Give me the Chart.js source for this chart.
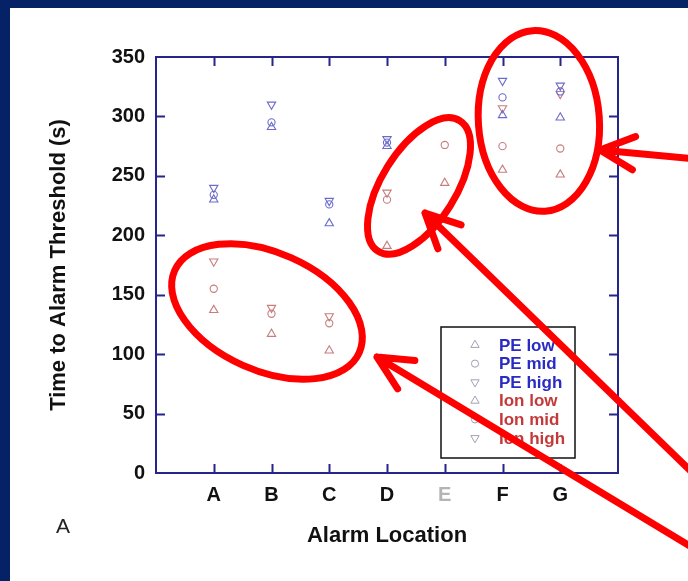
<!DOCTYPE html>
<html>
<head>
<meta charset="utf-8">
<script src="https://cdn.jsdelivr.net/npm/chart.js@4.4.1/dist/chart.umd.min.js"></script>
<style>
  html, body { margin: 0; padding: 0; }
  body { width: 688px; height: 581px; background: #062266; position: relative; overflow: hidden; }
  #panel { position: absolute; left: 10px; top: 8px; width: 678px; height: 573px; background: #fff; }
  #chart { position: absolute; left: 0; top: 0; }
  #panelTag { position: absolute; left: 46px; top: 508px; font: 21px/20px "Liberation Sans", Arial, sans-serif; color: #222; }
</style>
</head>
<body>
<div id="panel">
  <canvas id="chart" width="678" height="573"></canvas>
  <div id="panelTag">A</div>
</div>
<script>
/* Time to alarm threshold by location, PE vs ion detectors */

var categories = ['A', 'B', 'C', 'D', 'E', 'F', 'G'];
var yTicks = [0, 50, 100, 150, 200, 250, 300, 350];

var peLow   = [230, 291, 210, 275, null, 301, 299];
var peMid   = [234, 295, 226, 278, null, 316, 321];
var peHigh  = [240, 310, 229, 281, null, 330, 326];
var ionLow  = [137, 117, 103, 191, 244, 255, 251];
var ionMid  = [155, 134, 126, 230, 276, 275, 273];
var ionHigh = [178, 139, 132, 236, null, 307, 319];

var PE_MARK = '#6b6bcc';
var ION_MARK = '#c77d7d';
var PE_TEXT = '#2a2ac4';
var ION_TEXT = '#c43a3a';
var AXIS = '#25258c';
var FONT = '"Liberation Sans", Arial, sans-serif';

// red hand-drawn callouts, anchored in data units
var callouts = [
  { kind: 'ellipse', x: 6.63, y: 296.2, a: 60.5, b: 90.5, angle: -4 },
  { kind: 'ellipse', x: 4.554, y: 241.5, a: 77, b: 37, angle: -58 },
  { kind: 'ellipse', x: 1.922, y: 135.9, a: 101, b: 59, angle: 24 },
  { kind: 'arrow', x: 7.688, y: 271.8, x2: 9.33, y2: 264.2 },
  { kind: 'arrow', x: 4.658, y: 218.7, x2: 9.33, y2: -1.7 },
  { kind: 'arrow', x: 3.827, y: 97.6, x2: 9.33, y2: -63.9 }
];

function toPoints(values) {
  var pts = [];
  values.forEach(function (v, i) {
    if (v !== null) pts.push({ x: i + 1, y: v });
  });
  return pts;
}

function series(label, values, style, rotation, color, textColor) {
  return {
    label: label,
    data: toPoints(values),
    pointStyle: style,
    rotation: rotation,
    pointRadius: style === 'circle' ? 3.6 : 4.8,
    pointHoverRadius: style === 'circle' ? 3.6 : 4.8,
    borderColor: color,
    backgroundColor: 'rgba(0,0,0,0)',
    pointBorderWidth: 1.1,
    textColor: textColor
  };
}

var frameTicks = {
  id: 'frameTicks',
  afterDatasetsDraw: function (chart) {
    var ctx = chart.ctx, a = chart.chartArea;
    var xs = chart.scales.x, ys = chart.scales.y;
    ctx.save();
    ctx.strokeStyle = AXIS;
    ctx.lineWidth = 2;
    ctx.strokeRect(a.left, a.top, a.right - a.left, a.bottom - a.top);
    ctx.beginPath();
    categories.forEach(function (c, i) {
      var px = Math.round(xs.getPixelForValue(i + 1)) + 0.5;
      ctx.moveTo(px, a.bottom); ctx.lineTo(px, a.bottom - 9);
      ctx.moveTo(px, a.top); ctx.lineTo(px, a.top + 9);
    });
    yTicks.forEach(function (v) {
      if (v === yTicks[0] || v === yTicks[yTicks.length - 1]) return;
      var py = Math.round(ys.getPixelForValue(v)) + 0.5;
      ctx.moveTo(a.left, py); ctx.lineTo(a.left + 9, py);
      ctx.moveTo(a.right, py); ctx.lineTo(a.right - 9, py);
    });
    ctx.stroke();
    ctx.restore();
  }
};

var boxLegend = {
  id: 'boxLegend',
  afterDraw: function (chart) {
    var ctx = chart.ctx, a = chart.chartArea;
    var w = 134, h = 131;
    var left = a.right - 43 - w, top = a.bottom - 15 - h;
    ctx.save();
    ctx.fillStyle = '#fff';
    ctx.fillRect(left, top, w, h);
    ctx.strokeStyle = '#111';
    ctx.lineWidth = 1.5;
    ctx.strokeRect(left, top, w, h);
    ctx.font = 'bold 17px ' + FONT;
    ctx.textBaseline = 'middle';
    chart.data.datasets.forEach(function (ds, i) {
      var y = top + 18 + i * 18.6;
      ctx.strokeStyle = '#a2a2b4';
      ctx.fillStyle = 'rgba(0,0,0,0)';
      ctx.lineWidth = 1;
      Chart.helpers.drawPoint(ctx, {
        pointStyle: ds.pointStyle, rotation: ds.rotation,
        radius: ds.pointRadius, borderWidth: 1
      }, left + 34, y);
      ctx.fillStyle = ds.textColor;
      ctx.fillText(ds.label, left + 58, y + 1);
    });
    ctx.restore();
  }
};

var redMarks = {
  id: 'redMarks',
  afterDraw: function (chart) {
    var ctx = chart.ctx, xs = chart.scales.x, ys = chart.scales.y;
    ctx.save();
    ctx.strokeStyle = '#ff0000';
    ctx.lineWidth = 7;
    ctx.lineCap = 'round';
    ctx.lineJoin = 'round';
    callouts.forEach(function (m) {
      var px = xs.getPixelForValue(m.x), py = ys.getPixelForValue(m.y);
      ctx.beginPath();
      if (m.kind === 'ellipse') {
        ctx.ellipse(px, py, m.a, m.b, m.angle * Math.PI / 180, 0, Math.PI * 2);
      } else {
        var tx = xs.getPixelForValue(m.x2), ty = ys.getPixelForValue(m.y2);
        var ang = Math.atan2(ty - py, tx - px);
        var wing = 38, spread = 26 * Math.PI / 180;
        ctx.moveTo(tx, ty); ctx.lineTo(px, py);
        ctx.moveTo(px + Math.cos(ang - spread) * wing, py + Math.sin(ang - spread) * wing);
        ctx.lineTo(px, py);
        ctx.lineTo(px + Math.cos(ang + spread) * wing, py + Math.sin(ang + spread) * wing);
      }
      ctx.stroke();
    });
    ctx.restore();
  }
};

new Chart(document.getElementById('chart'), {
  type: 'scatter',
  data: {
    datasets: [
      series('PE low', peLow, 'triangle', 0, PE_MARK, PE_TEXT),
      series('PE mid', peMid, 'circle', 0, PE_MARK, PE_TEXT),
      series('PE high', peHigh, 'triangle', 180, PE_MARK, PE_TEXT),
      series('Ion low', ionLow, 'triangle', 0, ION_MARK, ION_TEXT),
      series('Ion mid', ionMid, 'circle', 0, ION_MARK, ION_TEXT),
      series('Ion high', ionHigh, 'triangle', 180, ION_MARK, ION_TEXT)
    ]
  },
  options: {
    responsive: false,
    animation: false,
    devicePixelRatio: 1,
    layout: { padding: { top: 49, right: 70, bottom: 0, left: 0 } },
    plugins: { legend: { display: false }, tooltip: { enabled: false } },
    scales: {
      x: {
        type: 'linear',
        min: 0,
        max: categories.length + 1,
        afterFit: function (s) { s.height = 108; },
        afterBuildTicks: function (s) {
          s.ticks = categories.map(function (c, i) { return { value: i + 1 }; });
        },
        ticks: {
          autoSkip: false,
          maxRotation: 0,
          padding: 10,
          font: { family: FONT, size: 20, weight: 'bold' },
          color: function (ctx) {
            return categories[ctx.tick.value - 1] === 'E' ? '#b4b4b4' : '#111';
          },
          callback: function (v) { return categories[v - 1] || ''; }
        },
        grid: { display: false, drawTicks: false },
        border: { display: false },
        title: {
          display: true,
          text: 'Alarm Location',
          color: '#111',
          font: { family: FONT, size: 22, weight: 'bold' },
          padding: { top: 0, bottom: 32 }
        }
      },
      y: {
        min: yTicks[0],
        max: yTicks[yTicks.length - 1],
        afterFit: function (s) { s.width = 146; },
        afterBuildTicks: function (s) {
          s.ticks = yTicks.map(function (v) { return { value: v }; });
        },
        ticks: {
          padding: 11,
          color: '#111',
          font: { family: FONT, size: 20, weight: 'bold' }
        },
        grid: { display: false, drawTicks: false },
        border: { display: false },
        title: {
          display: true,
          text: 'Time to Alarm Threshold (s)',
          color: '#111',
          font: { family: FONT, size: 22, weight: 'bold' },
          padding: { top: 36, bottom: 0 }
        }
      }
    }
  },
  plugins: [frameTicks, boxLegend, redMarks]
});
</script>
</body>
</html>
